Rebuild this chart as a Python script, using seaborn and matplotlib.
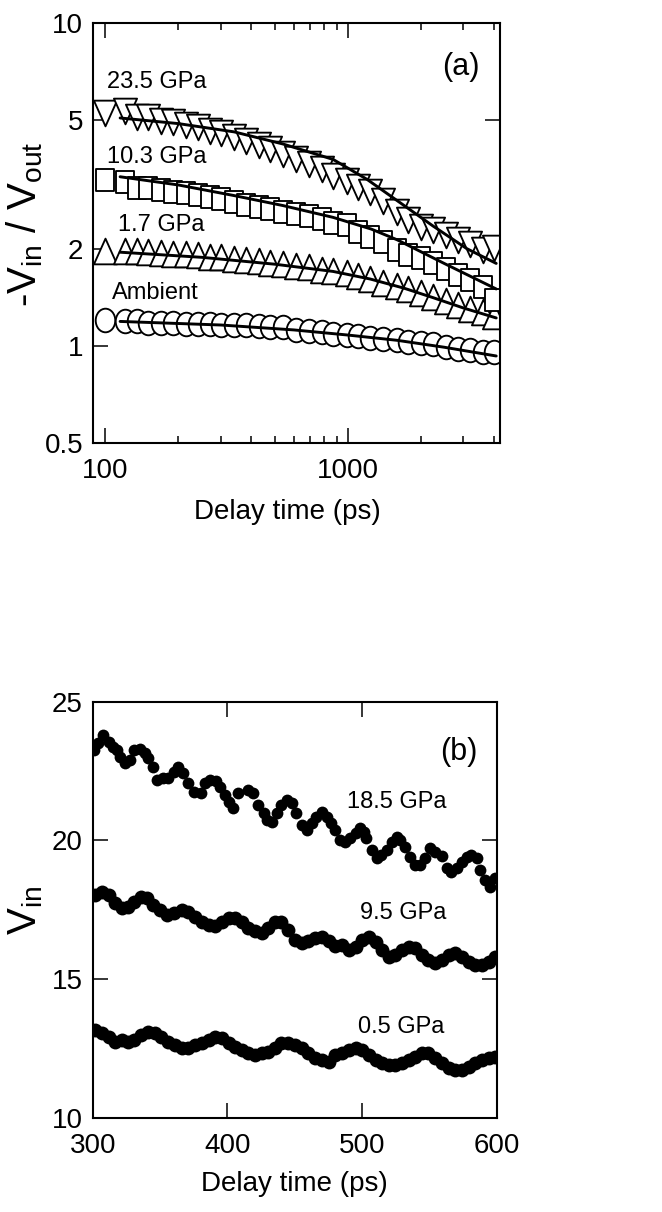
import numpy as np
import pandas as pd
import matplotlib
matplotlib.use("Agg")
import matplotlib.pyplot as plt
from matplotlib.path import Path
from matplotlib.markers import MarkerStyle
from matplotlib.ticker import FixedLocator, NullLocator, FixedFormatter, NullFormatter
import seaborn as sns

# ---------------- data: panel (a) ----------------
delay_a = [100, 120, 135, 150, 170, 190, 215, 240, 270, 300, 340, 380, 430, 480, 540, 610,
           690, 780, 870, 990, 1100, 1240, 1400, 1600, 1780, 2000, 2250, 2550, 2850, 3200, 3600, 4000]
ratio_235 = [5.25, 5.35, 5.13, 5.10, 4.98, 4.94, 4.83, 4.77, 4.62, 4.56, 4.42, 4.30, 4.18, 4.06, 3.92, 3.78,
             3.65, 3.52, 3.36, 3.24, 3.10, 2.99, 2.80, 2.60, 2.46, 2.34, 2.28, 2.20, 2.13, 2.07, 1.98, 2.01]
ratio_103 = [3.26, 3.22, 3.08, 3.08, 3.04, 3.00, 2.98, 2.93, 2.89, 2.86, 2.79, 2.73, 2.69, 2.65, 2.60, 2.56,
             2.53, 2.47, 2.40, 2.37, 2.26, 2.17, 2.09, 1.98, 1.91, 1.87, 1.81, 1.73, 1.66, 1.60, 1.52, 1.39]
ratio_17 = [1.96, 1.97, 1.96, 1.95, 1.94, 1.93, 1.92, 1.91, 1.89, 1.88, 1.86, 1.85, 1.83, 1.81, 1.79, 1.77,
            1.75, 1.72, 1.70, 1.68, 1.65, 1.61, 1.57, 1.53, 1.50, 1.46, 1.42, 1.38, 1.34, 1.30, 1.27, 1.24]
ratio_amb = [1.20, 1.19, 1.19, 1.18, 1.18, 1.18, 1.17, 1.17, 1.17, 1.16, 1.16, 1.16, 1.15, 1.14, 1.14, 1.12,
             1.11, 1.10, 1.09, 1.08, 1.07, 1.06, 1.05, 1.04, 1.03, 1.02, 1.01, 0.99, 0.98, 0.97, 0.96, 0.955]

fit_x_235 = [115, 200, 340, 540, 870, 1200, 1640, 2250, 3100, 4100]
fit_y_235 = [5.08, 4.88, 4.60, 4.22, 3.78, 3.28, 2.78, 2.35, 2.00, 1.80]
fit_x_103 = [115, 200, 340, 540, 870, 1250, 1600, 2500, 4100]
fit_y_103 = [3.34, 3.15, 2.92, 2.72, 2.50, 2.30, 2.13, 1.80, 1.50]
fit_x_17 = [115, 250, 500, 870, 1240, 1700, 2250, 3000, 4100]
fit_y_17 = [1.95, 1.88, 1.79, 1.70, 1.61, 1.51, 1.41, 1.31, 1.22]
fit_x_amb = [115, 300, 600, 1000, 1600, 2500, 4100]
fit_y_amb = [1.19, 1.16, 1.12, 1.08, 1.04, 0.99, 0.93]

labels_a = ["23.5 GPa", "10.3 GPa", "1.7 GPa", "Ambient"]
label_pos_a = [(101.5, 6.55), (101.5, 3.85), (113, 2.37), (106.5, 1.46)]

yticks_a = [0.5, 1, 2, 5, 10]
yticklabels_a = ["0.5", "1", "2", "5", "10"]
xticks_a = [100, 1000]
xticklabels_a = ["100", "1000"]
xminor_a = [200, 300, 400, 500, 600, 700, 800, 900, 2000, 3000, 4000]

# ---------------- data: panel (b) ----------------
t_185 = [301, 304, 308, 312, 315, 318, 320, 324, 328, 331, 335, 339, 341, 344.5, 348, 352, 356, 360,
         363.5, 367, 371, 375, 380, 383, 387, 391.5, 394.5, 398, 401, 404, 408, 415.5, 419, 423, 427,
         429, 433, 436.5, 440, 444, 448, 451, 455, 459, 462.5, 466, 470, 474, 477, 480, 483.5, 487,
         491, 495, 498, 501, 503, 507, 511, 514, 518, 522, 525.5, 528, 531.5, 535.5, 539, 543, 546.5,
         550, 554, 559, 563, 566, 570, 574, 577.5, 581, 585, 587, 591, 595, 598.5]
v_185 = [23.26, 23.50, 23.80, 23.56, 23.38, 23.26, 23.02, 22.78, 22.90, 23.26, 23.29, 23.14, 22.96,
         22.66, 22.18, 22.24, 22.24, 22.48, 22.66, 22.42, 22.06, 21.76, 21.70, 22.06, 22.18, 22.16,
         21.94, 21.64, 21.40, 21.16, 21.70, 21.82, 21.70, 21.28, 20.98, 20.74, 20.68, 20.98, 21.28,
         21.46, 21.34, 20.98, 20.56, 20.38, 20.62, 20.86, 21.04, 20.86, 20.62, 20.38, 20.02, 19.96,
         20.08, 20.26, 20.44, 20.32, 20.08, 19.66, 19.36, 19.48, 19.66, 19.96, 20.14, 20.02, 19.78,
         19.42, 19.12, 19.12, 19.36, 19.72, 19.60, 19.44, 19.00, 18.88, 19.00, 19.24, 19.42, 19.48,
         19.36, 18.94, 18.58, 18.34, 18.64]

t_95 = [302, 307, 312, 316.5, 321.5, 326.5, 331, 336, 340, 345, 350, 355, 360, 366, 371, 376, 381,
        386, 391, 396, 401, 405.5, 410.5, 415.5, 420.5, 425.5, 430, 435, 440, 445, 450, 455, 460, 465,
        470, 475, 480, 485, 490, 495, 500, 505, 510, 514.5, 519.5, 524.5, 529.5, 534.5, 539.5, 544.5,
        549, 554, 559, 564, 569, 574, 579, 584, 589, 594, 598.5]
v_95 = [18.04, 18.16, 18.04, 17.74, 17.56, 17.62, 17.80, 17.98, 17.92, 17.68, 17.50, 17.32, 17.38,
        17.50, 17.44, 17.26, 17.08, 16.96, 16.90, 17.08, 17.20, 17.20, 17.08, 16.84, 16.72, 16.66,
        16.84, 17.08, 17.08, 16.78, 16.42, 16.30, 16.36, 16.48, 16.51, 16.36, 16.18, 16.23, 16.05,
        16.17, 16.41, 16.53, 16.35, 16.05, 15.81, 15.87, 16.05, 16.17, 16.11, 15.87, 15.69, 15.57,
        15.69, 15.87, 15.93, 15.81, 15.63, 15.51, 15.51, 15.63, 15.81]

t_05 = [302, 307, 312, 316.5, 321.5, 326.5, 331, 336, 341, 346, 351, 356, 361, 366, 371, 376, 381,
        386, 391, 396, 401, 405.5, 410.5, 415.5, 420.5, 425.5, 430, 435, 440, 445, 450, 455, 460, 465,
        470, 475, 480, 485, 490, 495, 500, 505, 510, 514.5, 519.5, 524.5, 529.5, 534.5, 539.5, 544.5,
        549, 554, 559, 564, 569, 574, 579, 584, 589, 594, 598.5]
v_05 = [13.17, 13.05, 12.93, 12.75, 12.81, 12.75, 12.81, 12.99, 13.11, 13.05, 12.93, 12.75, 12.63,
        12.51, 12.51, 12.63, 12.69, 12.81, 12.93, 12.87, 12.69, 12.57, 12.45, 12.33, 12.27, 12.33,
        12.39, 12.51, 12.69, 12.69, 12.63, 12.51, 12.33, 12.15, 12.09, 12.03, 12.27, 12.33, 12.45,
        12.51, 12.45, 12.27, 12.09, 11.97, 11.91, 11.91, 11.97, 12.09, 12.21, 12.33, 12.33, 12.15,
        11.97, 11.79, 11.73, 11.73, 11.85, 11.97, 12.09, 12.15, 12.21]

labels_b = ["18.5 GPa", "9.5 GPa", "0.5 GPa"]
label_pos_b = [(488.5, 21.40), (498.3, 17.38), (497.0, 13.29)]
xticks_b = [300, 400, 500, 600]
yticks_b = [10, 15, 20, 25]

# ---------------- style ----------------
sns.set_theme(style="ticks")
plt.rcParams['font.family'] = ['Liberation Sans', 'DejaVu Sans']
plt.rcParams['mathtext.fontset'] = 'custom'
plt.rcParams['mathtext.rm'] = 'Liberation Sans'
plt.rcParams['mathtext.it'] = 'Liberation Sans:italic'
plt.rcParams['axes.linewidth'] = 1.5
plt.rcParams['text.color'] = 'black'
plt.rcParams['axes.labelcolor'] = 'black'
plt.rcParams['xtick.color'] = 'black'
plt.rcParams['ytick.color'] = 'black'

TICK_FS = 20
XLABEL_FS = 20
YLABEL_FS = 29
ANN_FS = 17

def mk(verts):
    verts = np.asarray(verts, float)
    codes = [Path.MOVETO] + [Path.LINETO] * (len(verts) - 2) + [Path.CLOSEPOLY]
    return MarkerStyle(Path(verts, codes))

circ = Path.unit_circle()
ellipse_marker = MarkerStyle(Path(circ.vertices * np.array([0.83, 1.0]), circ.codes))
square_marker = mk([(-0.82, -1), (0.82, -1), (0.82, 1), (-0.82, 1), (-0.82, -1)])
down_marker = mk([(-0.9, 1), (0.9, 1), (0, -1), (-0.9, 1)])
up_marker = mk([(-0.9, -1), (0.9, -1), (0, 1), (-0.9, -1)])

fig = plt.figure(figsize=(6.62, 12.12), dpi=100)
ax1 = fig.add_axes([0.1405, 0.6345, 0.6148, 0.3465])
ax2 = fig.add_axes([0.140, 0.0776, 0.6108, 0.3434])

# ---------------- panel (a) ----------------
ax1.set_xscale('log')
ax1.set_yscale('log')

series_a = [
    (ratio_amb, ellipse_marker, 17.0, fit_x_amb, fit_y_amb),
    (ratio_17, up_marker, 18.5, fit_x_17, fit_y_17),
    (ratio_103, square_marker, 16.5, fit_x_103, fit_y_103),
    (ratio_235, down_marker, 18.5, fit_x_235, fit_y_235),
]
for yvals, marker, size, fx, fy in series_a:
    df = pd.DataFrame({"t": delay_a, "r": yvals})
    sns.scatterplot(data=df, x="t", y="r", ax=ax1, marker=marker, s=size ** 2,
                    color="white", edgecolor="black", linewidth=1.35, zorder=2, legend=False)
for yvals, marker, size, fx, fy in series_a:
    dfl = pd.DataFrame({"t": fx, "r": fy})
    sns.lineplot(data=dfl, x="t", y="r", ax=ax1, color="black", linewidth=2.1,
                 estimator=None, sort=False, zorder=3, legend=False)

ax1.set_xlim(88.9, 4250)
ax1.set_ylim(0.5, 10)
ax1.xaxis.set_major_locator(FixedLocator(xticks_a))
ax1.xaxis.set_major_formatter(FixedFormatter(xticklabels_a))
ax1.xaxis.set_minor_locator(FixedLocator(xminor_a))
ax1.xaxis.set_minor_formatter(NullFormatter())
ax1.yaxis.set_major_locator(FixedLocator(yticks_a))
ax1.yaxis.set_major_formatter(FixedFormatter(yticklabels_a))
ax1.yaxis.set_minor_locator(NullLocator())

for txt, (xx, yy) in zip(labels_a, label_pos_a):
    ax1.text(xx, yy, txt, fontsize=ANN_FS, ha="left", va="center", color="black")
ax1.text(0.905, 0.895, "(a)", transform=ax1.transAxes, fontsize=22, ha="center", va="center")

ax1.set_xlabel("Delay time (ps)", fontsize=XLABEL_FS)
ax1.set_ylabel(r"-V$_{\mathrm{in}}$ / V$_{\mathrm{out}}$", fontsize=YLABEL_FS)
ax1.xaxis.set_label_coords(0.477, -0.133)
ax1.yaxis.set_label_coords(-0.118, 0.52)

# ---------------- panel (b) ----------------
for tt, vv, ms in [(t_185, v_185, 8.5), (t_95, v_95, 10.0), (t_05, v_05, 10.0)]:
    dfb = pd.DataFrame({"t": tt, "v": vv})
    sns.scatterplot(data=dfb, x="t", y="v", ax=ax2, marker="o", s=ms ** 2,
                    color="black", edgecolor="black", linewidth=0, zorder=2, legend=False)

ax2.set_xlim(300, 600)
ax2.set_ylim(10, 25)
ax2.set_xticks(xticks_b)
ax2.set_yticks(yticks_b)
for txt, (xx, yy) in zip(labels_b, label_pos_b):
    ax2.text(xx, yy, txt, fontsize=ANN_FS, ha="left", va="center", color="black")
ax2.text(0.905, 0.88, "(b)", transform=ax2.transAxes, fontsize=22, ha="center", va="center")
ax2.set_xlabel("Delay time (ps)", fontsize=XLABEL_FS)
ax2.set_ylabel(r"V$_{\mathrm{in}}$", fontsize=YLABEL_FS)
ax2.xaxis.set_label_coords(0.498, -0.128)
ax2.yaxis.set_label_coords(-0.118, 0.5)

for ax in (ax1, ax2):
    ax.tick_params(which="major", direction="in", top=True, right=True, length=11, width=1.1,
                   labelsize=TICK_FS, pad=7)
    ax.tick_params(which="minor", direction="in", top=True, right=True, length=5, width=1.1)
    ax.tick_params(axis="x", which="major", pad=11)
    for sp in ax.spines.values():
        sp.set_visible(True)
        sp.set_linewidth(1.5)
        sp.set_color("black")
    ax.set_facecolor("white")

fig.patch.set_facecolor("white")
fig.savefig("out.png", dpi=100, facecolor="white")
